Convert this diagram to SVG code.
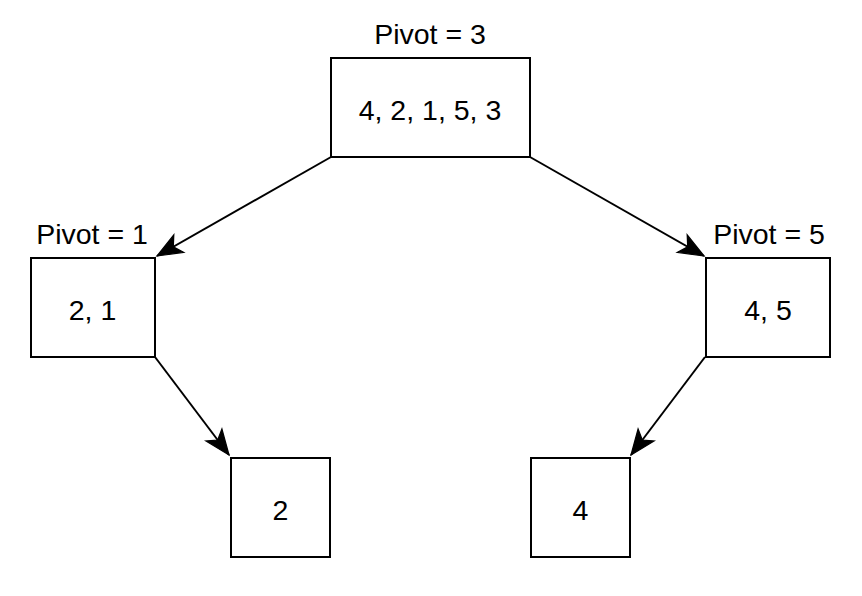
<svg xmlns="http://www.w3.org/2000/svg" width="862" height="596" viewBox="0 0 862 596">
<style>
.box{fill:#fff;stroke:#000;stroke-width:2}
.edge{stroke:#000;stroke-width:2;fill:none}
text{font-family:"Liberation Sans",Arial,sans-serif;font-size:28.5px;fill:#000;text-anchor:middle}
</style>
<defs>
<marker id="arr" markerUnits="userSpaceOnUse" markerWidth="30" markerHeight="30" refX="0" refY="0" viewBox="-22 -11 24 22" orient="auto" overflow="visible">
<path d="M0,0 L-20,-8 L-15,0 L-20,8 Z" fill="#000" stroke="#000" stroke-width="1"/>
</marker>
</defs>
<rect width="862" height="596" fill="#fff"/>
<g id="connectors">
<line class="edge" x1="331" y1="157" x2="157" y2="256" marker-end="url(#arr)"/>
<line class="edge" x1="530" y1="157" x2="704" y2="256" marker-end="url(#arr)"/>
<line class="edge" x1="155" y1="357" x2="229" y2="455" marker-end="url(#arr)"/>
<line class="edge" x1="705" y1="357" x2="631" y2="455" marker-end="url(#arr)"/>
</g>
<g id="node-root">
<rect class="box" x="331" y="58" width="199" height="99"/>
<text x="430" y="119.5">4, 2, 1, 5, 3</text>
<text x="430" y="44">Pivot = 3</text>
</g>
<g id="node-left">
<rect class="box" x="31" y="258" width="124" height="99"/>
<text x="92.5" y="320">2, 1</text>
<text x="92" y="244">Pivot = 1</text>
</g>
<g id="node-right">
<rect class="box" x="706" y="258" width="124" height="99"/>
<text x="768" y="320">4, 5</text>
<text x="769" y="244">Pivot = 5</text>
</g>
<g id="node-left-child">
<rect class="box" x="231" y="458" width="99" height="99"/>
<text x="280.5" y="520">2</text>
</g>
<g id="node-right-child">
<rect class="box" x="531" y="458" width="99" height="99"/>
<text x="580.5" y="520">4</text>
</g>
</svg>
